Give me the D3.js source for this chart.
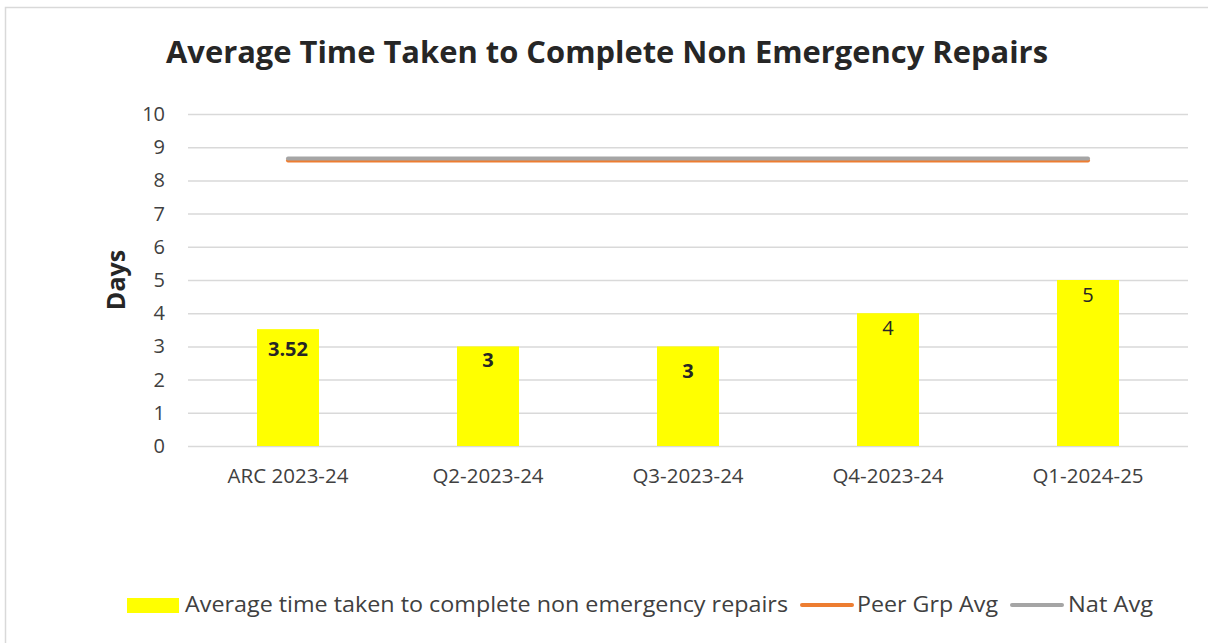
<!DOCTYPE html>
<html>
<head>
<meta charset="utf-8">
<script src="https://cdn.jsdelivr.net/npm/d3@7"></script>
<style>
	html, body { margin: 0; background: #fff; overflow: hidden; }
	svg { display: block; }
	text { font-family: "Open Sans", sans-serif; }
</style>
</head>
<body>
<script>
(function(){

	// chart data
	var categories = ["ARC 2023-24", "Q2-2023-24", "Q3-2023-24", "Q4-2023-24", "Q1-2024-25"];
	var repairDays = [3.52, 3, 3, 4, 5];
	var labelText = ["3.52", "3", "3", "4", "5"];
	var labelBold = [true, true, true, false, false];
	var labelDrop = [20, 14, 25, 15, 15]; // how far the label sits under the bar top
	var peerAvg = [8.6, 8.6, 8.6, 8.6, 8.6];
	var natAvg = [8.66, 8.66, 8.66, 8.66, 8.66];
	var yTicks = [0, 1, 2, 3, 4, 5, 6, 7, 8, 9, 10];

	var width = 1208,
		height = 643;

	var svg = d3.select("body")
		.append("svg")
		.attr("width", width)
		.attr("height", height);

	// chart frame (runs off the right and bottom edges)
	svg.append("rect")
		.attr("x", 5.5)
		.attr("y", 7.5)
		.attr("width", 1240)
		.attr("height", 660)
		.attr("fill", "#fff")
		.attr("stroke", "#d9d9d9")
		.attr("stroke-width", 1.5);

	var plot = { left: 188, right: 1188, top: 114, bottom: 446 };

	var x = d3.scaleBand()
		.domain(categories)
		.range([plot.left, plot.right])
		.paddingInner(0.69)
		.paddingOuter(0.345);

	var y = d3.scaleLinear()
		.domain([0, 10])
		.range([plot.bottom, plot.top]);

	//title
	svg.append("text")
		.attr("x", 607)
		.attr("y", 63)
		.attr("text-anchor", "middle")
		.attr("font-size", 31)
		.attr("font-weight", "bold")
		.attr("fill", "#262626")
		.attr("textLength", 882)
		.attr("lengthAdjust", "spacingAndGlyphs")
		.text("Average Time Taken to Complete Non Emergency Repairs");

	//gridlines
	svg.append("g")
		.attr("transform", "translate(" + plot.left + ",0)")
		.call(d3.axisLeft(y).tickValues(yTicks).tickSize(-(plot.right - plot.left)).tickFormat(""))
		.call(function(g){
			g.select(".domain").remove();
			g.selectAll("line").attr("stroke", "#d9d9d9").attr("stroke-width", 1.5);
		});

	//y axis labels
	svg.append("g")
		.attr("transform", "translate(" + plot.left + ",0)")
		.call(d3.axisLeft(y).tickValues(yTicks).tickSize(0).tickPadding(23))
		.call(function(g){
			g.select(".domain").remove();
			g.selectAll("text")
				.attr("font-size", 20)
				.attr("font-family", "Open Sans, sans-serif")
				.attr("fill", "#404040");
		});

	//x axis labels
	svg.append("g")
		.attr("transform", "translate(0," + plot.bottom + ")")
		.call(d3.axisBottom(x).tickSize(0).tickPadding(22))
		.call(function(g){
			g.select(".domain").remove();
			g.selectAll("text")
				.attr("font-size", 20.5)
				.attr("font-family", "Open Sans, sans-serif")
				.attr("fill", "#404040");
		});

	//y axis title
	svg.append("text")
		.attr("transform", "translate(125,280) rotate(-90)")
		.attr("text-anchor", "middle")
		.attr("font-size", 25)
		.attr("font-weight", "bold")
		.attr("fill", "#262626")
		.text("Days");

	//bars
	svg.selectAll(".bar")
		.data(repairDays)
		.enter()
		.append("rect")
		.attr("class", "bar")
		.attr("x", function(d, i){ return x(categories[i]); })
		.attr("y", function(d){ return y(d); })
		.attr("width", x.bandwidth())
		.attr("height", function(d){ return plot.bottom - y(d); })
		.attr("fill", "#ffff00");

	//bar labels
	svg.selectAll(".barlabel")
		.data(repairDays)
		.enter()
		.append("text")
		.attr("class", "barlabel")
		.attr("x", function(d, i){ return x(categories[i]) + x.bandwidth() / 2; })
		.attr("y", function(d, i){ return y(d) + labelDrop[i]; })
		.attr("dy", "0.35em")
		.attr("text-anchor", "middle")
		.attr("font-size", 20)
		.attr("font-weight", function(d, i){ return labelBold[i] ? "bold" : "normal"; })
		.attr("fill", "#262626")
		.text(function(d, i){ return labelText[i]; });

	//average lines
	var line = d3.line()
		.x(function(d, i){ return x(categories[i]) + x.bandwidth() / 2; })
		.y(function(d){ return y(d); });

	svg.append("path")
		.datum(peerAvg)
		.attr("d", line)
		.attr("fill", "none")
		.attr("stroke", "#ed7d31")
		.attr("stroke-width", 4)
		.attr("stroke-linecap", "round");

	svg.append("path")
		.datum(natAvg)
		.attr("d", line)
		.attr("fill", "none")
		.attr("stroke", "#a5a5a5")
		.attr("stroke-width", 4)
		.attr("stroke-linecap", "round");

	//legend
	var legend = svg.append("g");
	legend.append("rect")
		.attr("x", 127).attr("y", 598)
		.attr("width", 52).attr("height", 15)
		.attr("fill", "#ffff00");
	legend.append("text")
		.attr("x", 185).attr("y", 612)
		.attr("font-size", 21)
		.attr("fill", "#404040")
		.attr("textLength", 603)
		.attr("lengthAdjust", "spacingAndGlyphs")
		.text("Average time taken to complete non emergency repairs");
	legend.append("line")
		.attr("x1", 802).attr("x2", 852)
		.attr("y1", 605).attr("y2", 605)
		.attr("stroke", "#ed7d31").attr("stroke-width", 4).attr("stroke-linecap", "round");
	legend.append("text")
		.attr("x", 857).attr("y", 612)
		.attr("font-size", 21)
		.attr("fill", "#404040")
		.attr("textLength", 141)
		.attr("lengthAdjust", "spacingAndGlyphs")
		.text("Peer Grp Avg");
	legend.append("line")
		.attr("x1", 1012).attr("x2", 1062)
		.attr("y1", 605).attr("y2", 605)
		.attr("stroke", "#a5a5a5").attr("stroke-width", 4).attr("stroke-linecap", "round");
	legend.append("text")
		.attr("x", 1068).attr("y", 612)
		.attr("font-size", 21)
		.attr("fill", "#404040")
		.attr("textLength", 85)
		.attr("lengthAdjust", "spacingAndGlyphs")
		.text("Nat Avg");

})();
</script>
</body>
</html>
